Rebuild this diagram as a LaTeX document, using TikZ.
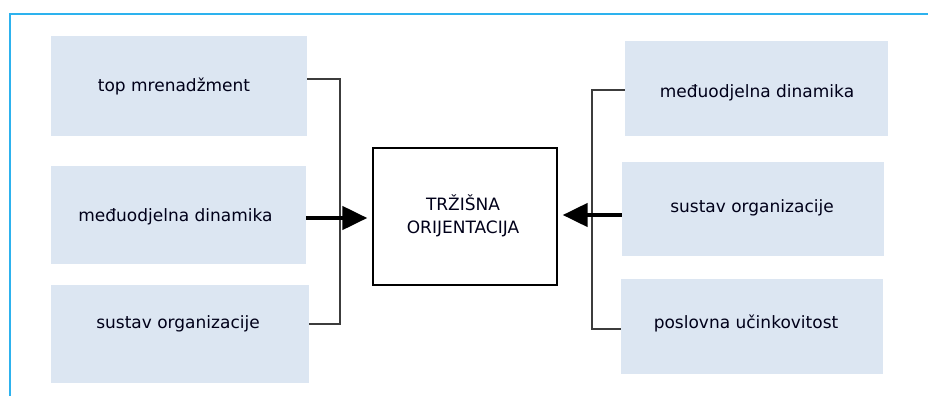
\documentclass[tikz,border=0pt]{standalone}
\usepackage{fontspec}
\setmainfont{DejaVu Sans}
\usetikzlibrary{arrows.meta}
\usetikzlibrary{positioning}
\definecolor{boxblue}{RGB}{220,230,242}
\definecolor{framecol}{RGB}{45,178,238}
\definecolor{linegray}{RGB}{60,60,60}
\tikzset{
  fbox/.style={fill=boxblue, draw=none, inner sep=0pt},
  lbl/.style={font=\fontsize{17}{23}\selectfont, text=black!90!blue, inner sep=1pt},
  joint/.style={draw=linegray, line width=1.3pt},
  bigarrow/.style={line width=4.5pt, -{Triangle[length=25pt,width=23pt]}, shorten >=5pt}
}

\begin{document}
\begin{tikzpicture}[x=1pt,y=-1pt]
     \useasboundingbox (0,0) rectangle (928,396);
     \draw[framecol, line width=1.8pt] (10,396) -- (10,14) -- (928,14);
     % left side
     \node[fbox, minimum width=256pt, minimum height=100pt] (l1) at (179,86) {};
     \node[fbox, minimum width=255pt, minimum height=98pt] (l2) at (178.5,215) {};
     \node[fbox, minimum width=258pt, minimum height=98pt] (l3) at (180,334) {};
     \node[lbl] (l1t) at (174,86) {top mrenadžment};
     \node[lbl] (l2t) at (175.5,217) {međuodjelna dinamika};
     \node[lbl] (l3t) at (178,324) {sustav organizacije};
     % right side
     \node[fbox, minimum width=263pt, minimum height=95pt] (r1) at (756.5,88.5) {};
     \node[fbox, minimum width=262pt, minimum height=94pt] (r2) at (753,209) {};
     \node[fbox, minimum width=262pt, minimum height=95pt] (r3) at (752,326.5) {};
     \node[lbl] (r1t) at (757,93) {međuodjelna dinamika};
     \node[lbl] (r2t) at (752,208) {sustav organizacije};
     \node[lbl] (r3t) at (746,323) {poslovna učinkovitost};
     % centre
     \node[draw, line width=1.3pt, minimum width=184pt, minimum height=137pt, inner sep=0pt] (orient) at (465,216.5) {};
     \node[lbl, align=center] (orientt) at (463,216) {TRŽIŠNA\\ORIJENTACIJA};
     % connectors
     \coordinate (lt) at (340,79);
     \coordinate (lb) at (340,324);
     \coordinate (rt) at (592,90);
     \coordinate (rb) at (592,329);
     \draw[joint] (l1.east |- lt) -- (lt) -- (lb) -- (l3.east |- lb);
     \draw[joint] (r1.west |- rt) -- (rt) -- (rb) -- (r3.west |- rb);
     \draw[bigarrow] (l2.east |- 0,218) -- (orient.west |- 0,218);
     \draw[bigarrow] (r2.west |- 0,215) -- (orient.east |- 0,215);
\end{tikzpicture}
\end{document}
